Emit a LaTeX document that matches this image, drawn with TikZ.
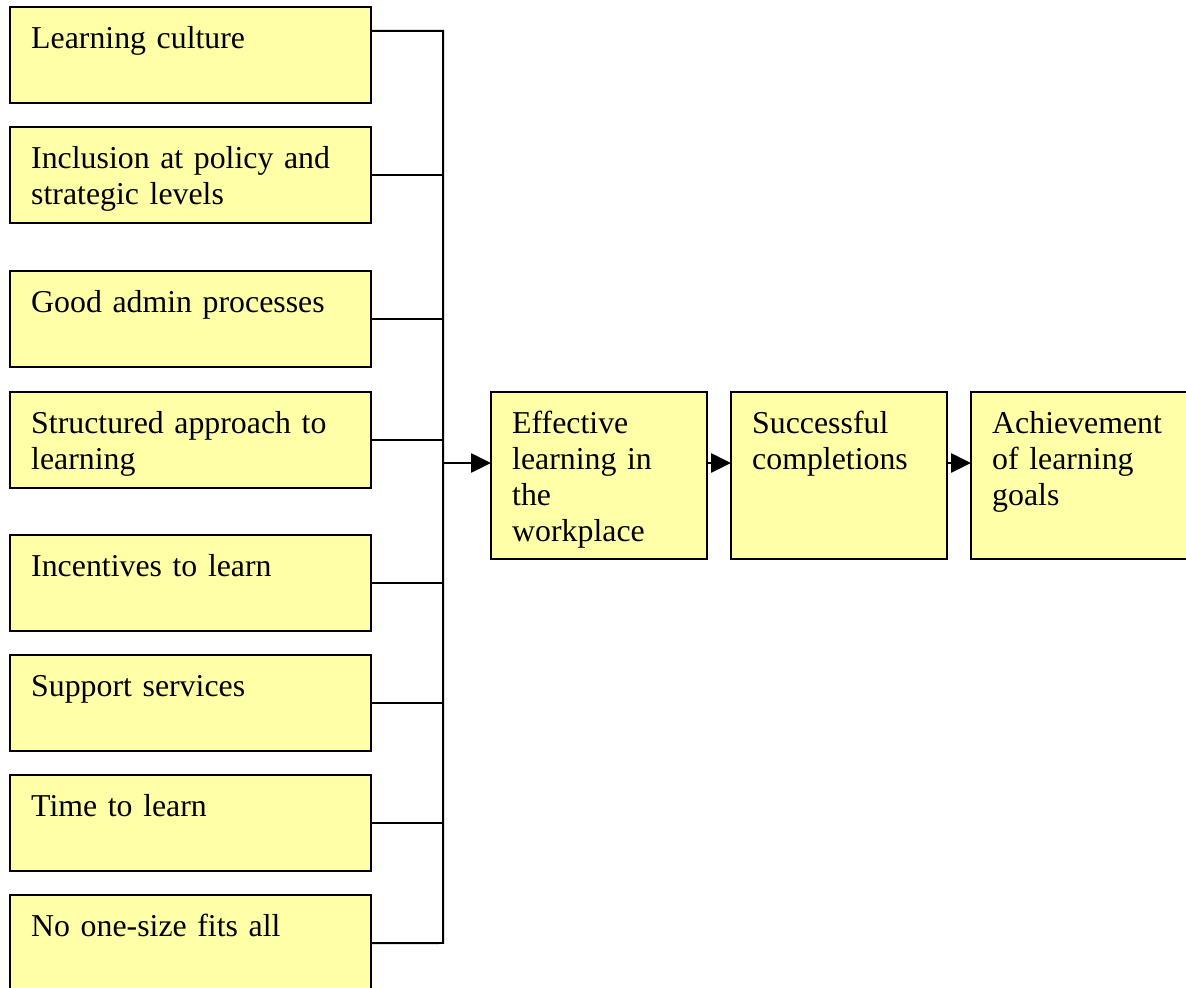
\documentclass[tikz,border=0pt]{standalone}
\usepackage{fontspec}
\setmainfont{Liberation Serif}
\usepackage{xcolor}
\usetikzlibrary{arrows.meta}
\definecolor{boxyellow}{RGB}{255,255,168}
\tikzset{
	factor/.style={
			draw, line width=0.75pt, fill=boxyellow, anchor=north west,
			outer sep=0pt, inner xsep=8pt, inner ysep=0pt,
			text width=120.1pt, align=left,
			font=\fontsize{12}{13.6}\selectfont,
			text height=15.5pt, text depth=20.7pt
		},
	outcome/.style={
			factor, text width=65.4pt, text depth=47.5pt
		},
	link/.style={line width=0.75pt},
	flow/.style={line width=0.75pt, -{Triangle[length=7.5pt,width=7.2pt]}}
}

\begin{document}
\begin{tikzpicture}[x=0.377pt, y=-0.377pt]
			\useasboundingbox (0,0) rectangle (1186,988);

			% Conditions on the left
			\node[factor] (culture)    at (10,7)   {Learning culture};
			\node[factor] (policy)     at (10,127) {Inclusion at policy and\\ strategic levels};
			\node[factor] (admin)      at (10,271) {Good admin processes};
			\node[factor] (structured) at (10,392) {Structured approach to\\ learning};
			\node[factor] (incentives) at (10,535) {Incentives to learn};
			\node[factor] (support)    at (10,655) {Support services};
			\node[factor] (time)       at (10,775) {Time to learn};
			\node[factor] (onesize)    at (10,895) {No one-size fits all};

			% Chain of outcomes
			\node[outcome] (effective)   at (491,392) {Effective\\ learning in\\ the\\ workplace};
			\node[outcome] (completions) at (731,392) {Successful\\ completions};
			\node[outcome, text width=66.2pt] (goals) at (971,392) {Achievement\\ of learning\\ goals};

			% Collecting line
			\coordinate (bustop) at (443,31);
			\coordinate (busbot) at (443,943);
			\coordinate (bus) at (443,463);
			\draw[link] ([yshift=-9pt]culture.north east) -- (bustop) -- (busbot) -- (onesize.east);
			\foreach \f in {policy,admin,structured,incentives,support,time}
				\draw[link] (\f.east) -- (\f.east -| bustop);

			% Arrows
			\draw[flow] (bus) -- (bus -| effective.west);
			\draw[flow] (effective.east |- bus) -- (completions.west |- bus);
			\draw[flow] (completions.east |- bus) -- (goals.west |- bus);
		\end{tikzpicture}
\end{document}
